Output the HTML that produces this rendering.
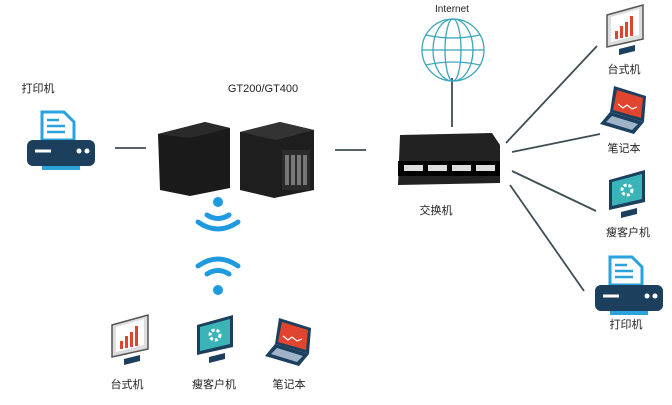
<!DOCTYPE html>
<html><head><meta charset="utf-8"><style>
html,body{margin:0;padding:0;background:#fff;width:672px;height:405px;overflow:hidden}
svg{display:block}
text{font-family:"Liberation Sans","Noto Sans CJK SC",sans-serif;fill:#222}
</style></head><body>
<svg width="672" height="405" viewBox="0 0 672 405" xmlns="http://www.w3.org/2000/svg">
<defs>
<g id="printer">
 <path d="M15 0 h22 l10 10 v18 h-32 z" fill="none" stroke="#2aa3dc" stroke-width="3"/>
 <line x1="20" y1="8" x2="32" y2="8" stroke="#2aa3dc" stroke-width="2.5"/>
 <line x1="20" y1="14" x2="38" y2="14" stroke="#2aa3dc" stroke-width="2.5"/>
 <line x1="20" y1="20" x2="38" y2="20" stroke="#2aa3dc" stroke-width="2.5"/>
 <rect x="0" y="28" width="68" height="26" rx="6" fill="#1d3f5e"/>
 <line x1="8" y1="39" x2="24" y2="39" stroke="#fff" stroke-width="3"/>
 <circle cx="52" cy="39" r="2.5" fill="#fff"/><circle cx="60" cy="39" r="2.5" fill="#fff"/>
 <rect x="15" y="54" width="38" height="4" fill="#2aa3dc"/>
</g>
<g id="desk">
 <path d="M2 10 L38 0 L38 34 L2 42 z" fill="#ddd" stroke="#555" stroke-width="1.5"/>
 <path d="M6 12 L34 4 L34 30 L6 37 z" fill="#fff"/>
 <path d="M10 34 v-8 h3 v8 M15 33 v-12 h3 v12 M20 32 v-15 h3 v15 M25 31 v-20 h3 v20" fill="#e0452f"/>
 <path d="M14 44 l16 -4 v6 l-16 4z" fill="#1d3f5e"/>
</g>
<g id="thin">
 <path d="M2 10 L38 0 L38 32 L2 40 z" fill="#1d3f5e"/>
 <path d="M5 12 L35 4 L35 29 L5 36 z" fill="#3bb4b8"/>
 <circle cx="20" cy="20" r="5" fill="none" stroke="#fff" stroke-width="3" stroke-dasharray="3 2"/>
 <path d="M14 42 l16 -4 v6 l-16 4z" fill="#1d3f5e"/>
</g>
<g id="lap">
 <path d="M14 0 L46 10 L44 36 L10 26 z" fill="#1d3f5e"/>
 <path d="M17 4 L43 12 L41 32 L13 24 z" fill="#e0452f"/>
 <path d="M18 18 l5 4 l4 -3 l5 4 l5 -2" fill="none" stroke="#fff" stroke-width="1.2"/>
 <path d="M10 26 L44 36 L34 48 L0 38 z" fill="#1d3f5e"/>
 <path d="M12 30 L38 38 L32 44 L6 36 z" fill="#9fb4c8"/>
</g>
</defs>

<!-- lines -->
<g stroke="#3e4e55" stroke-width="1.8">
 <line x1="115" y1="148" x2="146" y2="148"/>
 <line x1="335" y1="150" x2="366" y2="150"/>
 <line x1="452" y1="78" x2="452" y2="127"/>
 <line x1="506" y1="143" x2="597" y2="46"/>
 <line x1="512" y1="152" x2="600" y2="134"/>
 <line x1="512" y1="171" x2="596" y2="211"/>
 <line x1="510" y1="185" x2="584" y2="291"/>
</g>

<!-- left printer -->
<text x="38" y="92" font-size="11" text-anchor="middle">打印机</text>
<use href="#printer" x="27" y="112"/>

<!-- NAS -->
<text x="263" y="92" font-size="11" text-anchor="middle">GT200/GT400</text>
<path d="M158 134 L205 122 L230 128 L230 188 L190 196 L160 190 z" fill="#1a1a1a"/>
<path d="M158 134 L205 122 L230 128 L190 138 z" fill="#2a2a2a"/>
<path d="M240 132 L280 122 L314 130 L314 190 L274 198 L240 190 z" fill="#1e1e1e"/>
<path d="M240 132 L280 122 L314 130 L276 140 z" fill="#333"/>
<rect x="282" y="150" width="28" height="40" fill="#2b2b2b"/>
<g fill="#777"><rect x="285" y="155" width="4" height="30"/><rect x="291" y="155" width="4" height="30"/><rect x="297" y="155" width="4" height="30"/><rect x="303" y="155" width="4" height="30"/></g>

<!-- wifi -->
<g fill="none" stroke="#1e9ae0" stroke-width="5" stroke-linecap="round">
 <circle cx="218" cy="202" r="5" fill="#1e9ae0" stroke="none"/>
 <path d="M207 215 Q218 222 229 215"/>
 <path d="M198 222 Q218 236 238 222"/>
 <path d="M198 266 Q218 252 238 266"/>
 <path d="M207 274 Q218 267 229 274"/>
 <circle cx="218" cy="290" r="5" fill="#1e9ae0" stroke="none"/>
</g>

<!-- bottom devices -->
<use href="#desk" x="110" y="315"/>
<use href="#thin" x="195" y="315"/>
<use href="#lap" x="265" y="318"/>
<text x="127" y="388" font-size="11" text-anchor="middle">台式机</text>
<text x="214" y="388" font-size="11" text-anchor="middle">瘦客户机</text>
<text x="289" y="388" font-size="11" text-anchor="middle">笔记本</text>

<!-- internet -->
<text x="452" y="12" font-size="10" text-anchor="middle">Internet</text>
<g fill="none" stroke="#3aa6b8" stroke-width="1.3">
 <circle cx="453" cy="50" r="31"/>
 <ellipse cx="453" cy="50" rx="20" ry="31"/>
 <ellipse cx="453" cy="50" rx="8" ry="31"/>
 <line x1="422" y1="50" x2="484" y2="50"/>
 <path d="M426 35 Q453 41 480 35 M426 65 Q453 59 480 65"/>
</g>

<!-- switch -->
<path d="M400 135 L492 133 L500 145 L500 183 L398 185 z" fill="#222"/>
<rect x="398" y="161" width="102" height="15" fill="#000"/>
<g fill="#ddd"><rect x="404" y="165" width="19" height="6"/><rect x="428" y="165" width="19" height="6"/><rect x="452" y="165" width="19" height="6"/><rect x="476" y="165" width="19" height="6"/></g>
<text x="436" y="214" font-size="11" text-anchor="middle">交换机</text>

<!-- right devices -->
<use href="#desk" x="605" y="5"/>
<text x="624" y="73" font-size="11" text-anchor="middle">台式机</text>
<use href="#lap" x="600" y="86"/>
<text x="624" y="152" font-size="11" text-anchor="middle">笔记本</text>
<use href="#thin" x="607" y="170"/>
<text x="628" y="236" font-size="11" text-anchor="middle">瘦客户机</text>
<use href="#printer" x="595" y="257"/>
<text x="626" y="328" font-size="11" text-anchor="middle">打印机</text>
</svg>
</body></html>
